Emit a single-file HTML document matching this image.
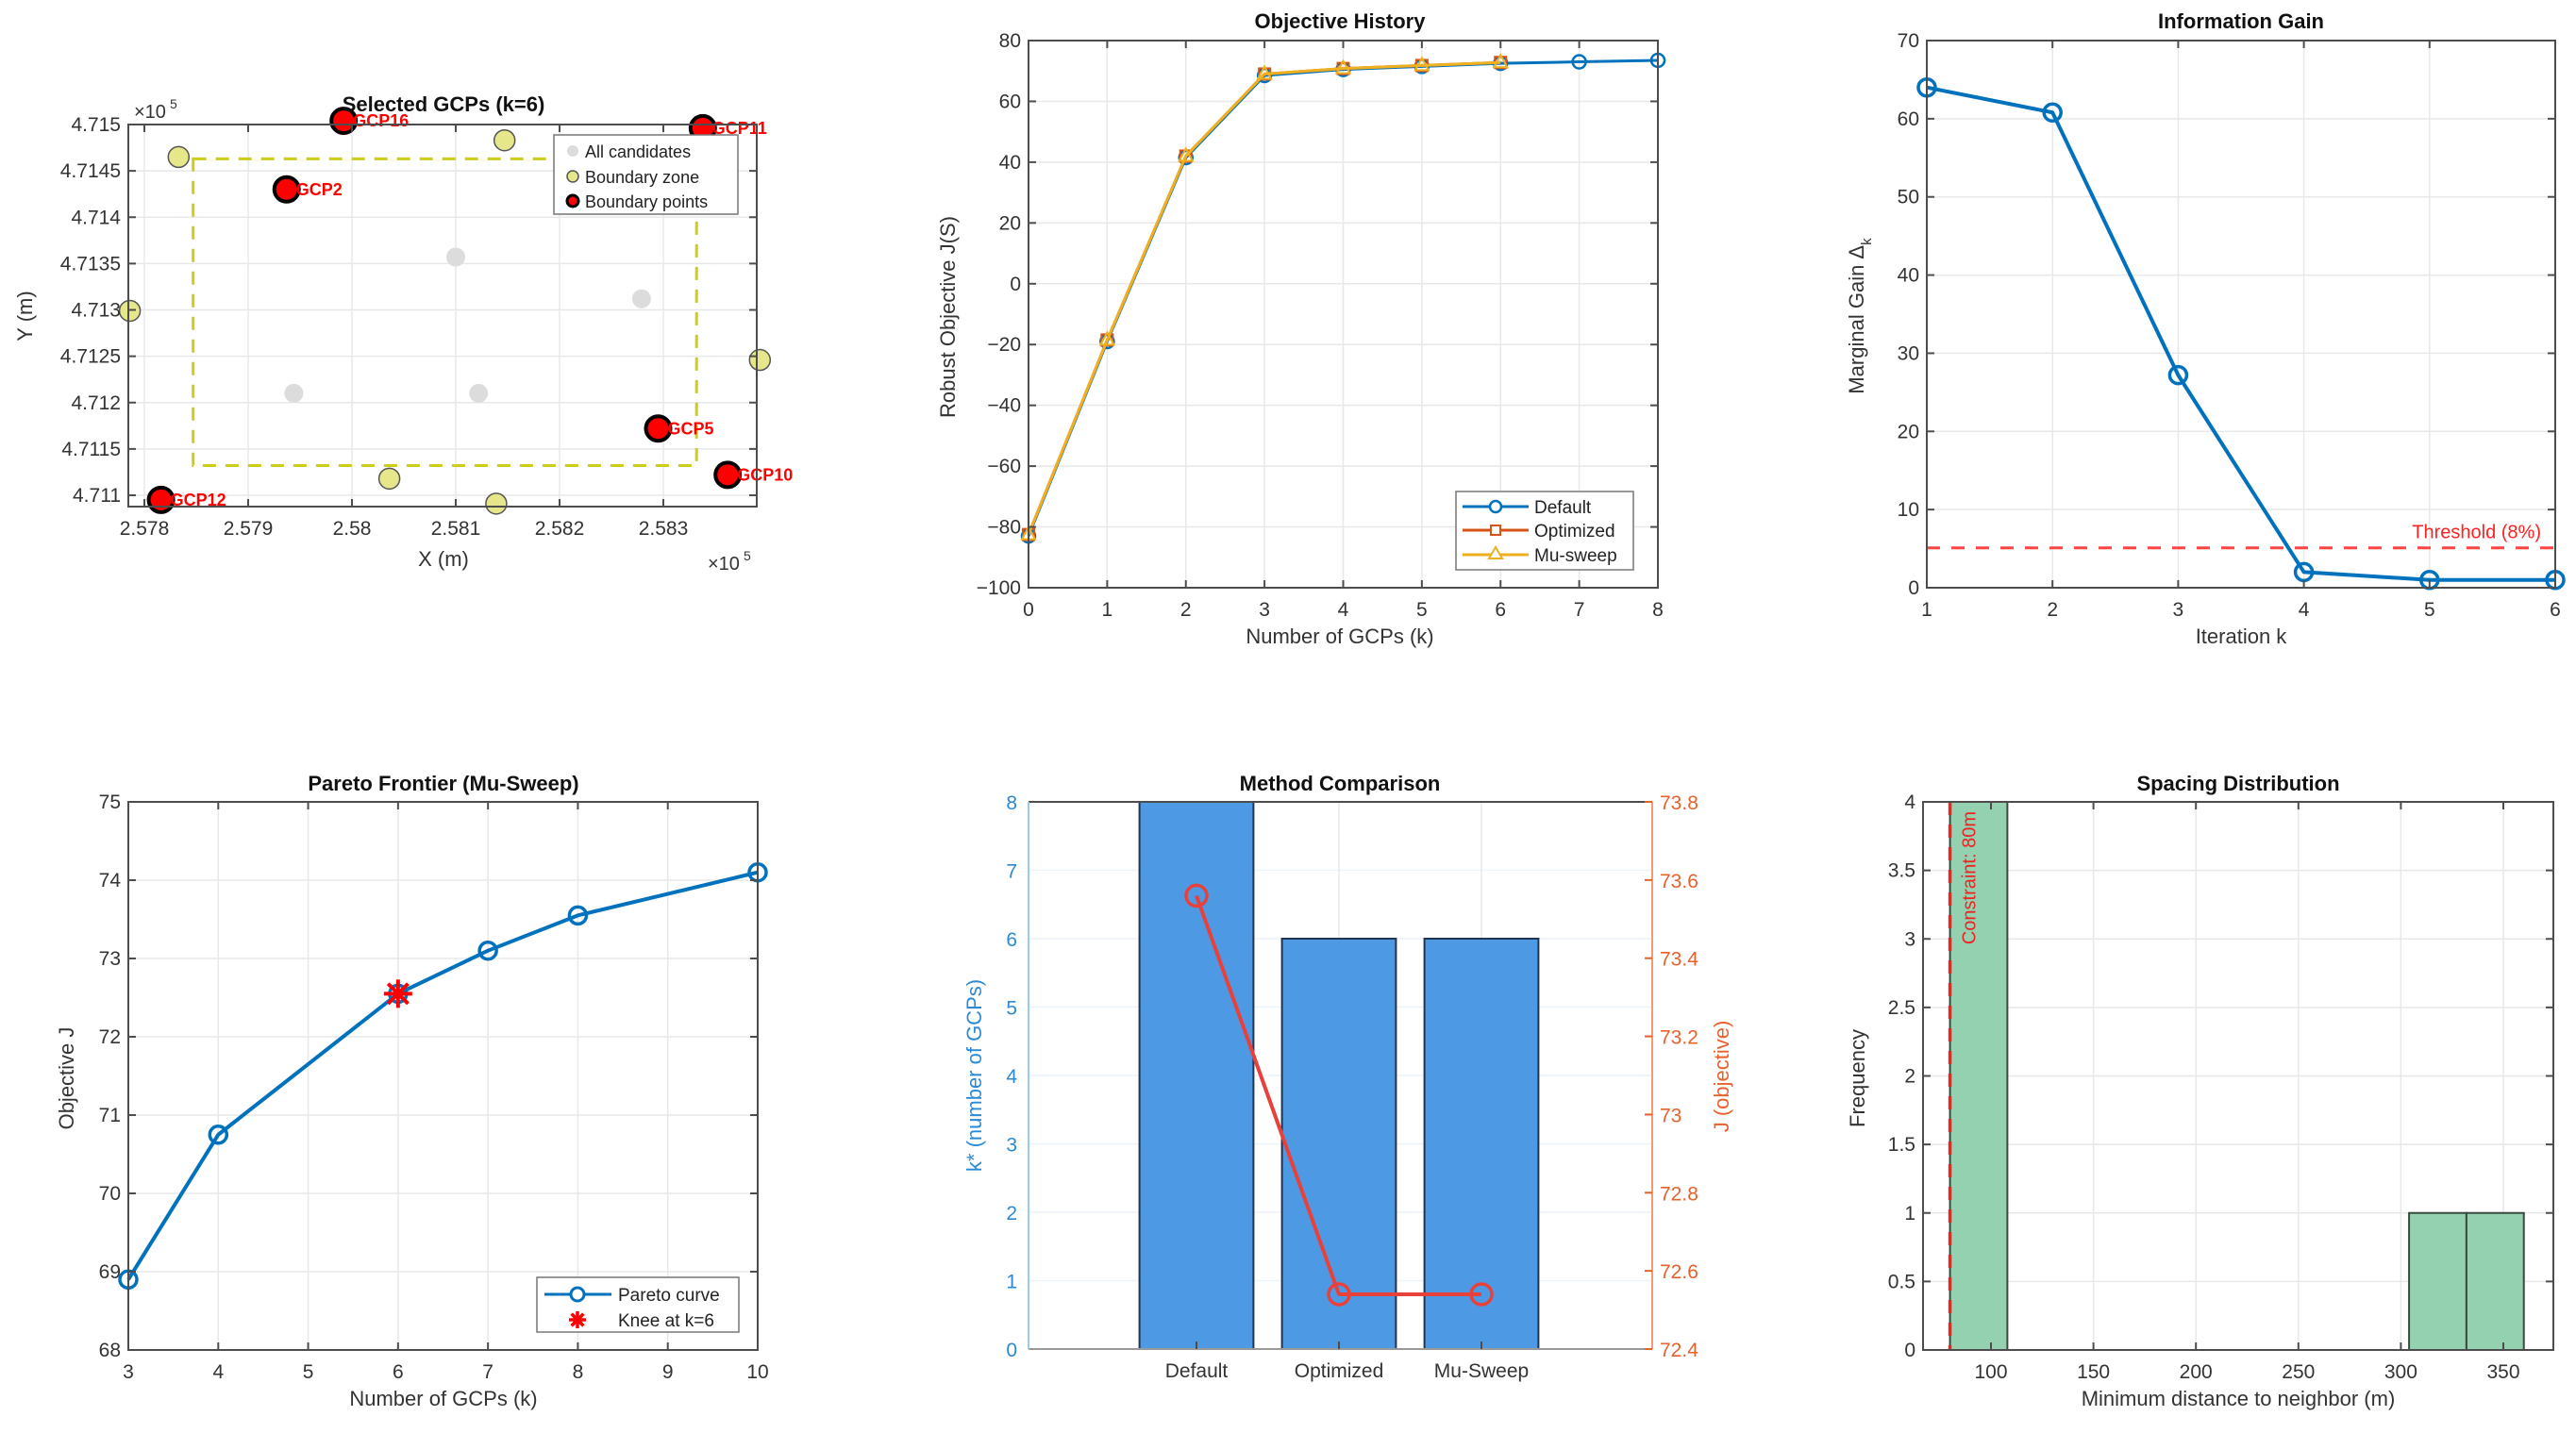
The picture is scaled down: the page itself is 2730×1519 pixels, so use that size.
<!DOCTYPE html>
<html><head><meta charset="utf-8"><style>
html,body{margin:0;padding:0;background:#fff}
svg{display:block;font-family:"Liberation Sans",Arial,sans-serif}
</style></head><body>
<svg id="fig" width="2730" height="1519" viewBox="0 0 2730 1519" xmlns="http://www.w3.org/2000/svg"></svg>
<script>
// ---------- data ----------
const candX=[2.58100,2.58279,2.57944,2.58122];
const candY=[4.71357,4.71312,4.71210,4.71210];
const zoneX=[2.57833,2.58147,2.57786,2.58393,2.58036,2.58139];
const zoneY=[4.71465,4.71483,4.71299,4.71246,4.71118,4.71091];
const gcpNames=["GCP16","GCP11","GCP2","GCP5","GCP10","GCP12"];
const gcpX=[2.57992,2.58338,2.57937,2.58295,2.58362,2.57816];
const gcpY=[4.71504,4.71496,4.71430,4.71172,4.71122,4.71095];
const rectX=[2.57847,2.58332];
const rectY=[4.71132,4.71463];
const p1XTicks=[2.578,2.579,2.58,2.581,2.582,2.583];
const p1YTicks=[4.711,4.7115,4.712,4.7125,4.713,4.7135,4.714,4.7145,4.715];

const histK=[0,1,2,3,4,5,6,7,8];
const histDefault=[-83,-19,41.5,68.5,70.5,71.5,72.5,73,73.5];
const histOptK=[0,1,2,3,4,5,6];
const histOptimized=[-82.5,-18.5,42,69,70.8,71.8,72.8];
const histMu=[-82.5,-18.5,42,69,70.8,71.8,72.8];
const p2XTicks=[0,1,2,3,4,5,6,7,8];
const p2YTicks=[-100,-80,-60,-40,-20,0,20,40,60,80];

const gainK=[1,2,3,4,5,6];
const gainVals=[64,60.8,27.2,2,1,1];
const threshold=[5.1];
const p3XTicks=[1,2,3,4,5,6];
const p3YTicks=[0,10,20,30,40,50,60,70];

const paretoK=[3,4,6,7,8,10];
const paretoJ=[68.9,70.75,72.55,73.1,73.55,74.1];
const kneeK=[6];
const kneeJ=[72.55];
const p4XTicks=[3,4,5,6,7,8,9,10];
const p4YTicks=[68,69,70,71,72,73,74,75];

const methods=["Default","Optimized","Mu-Sweep"];
const methodK=[8,6,6];
const methodJ=[73.56,72.54,72.54];
const p5LTicks=[0,1,2,3,4,5,6,7,8];
const p5RTicks=[72.4,72.6,72.8,73,73.2,73.4,73.6,73.8];
const p5RLabels=["72.4","72.6","72.8","73","73.2","73.4","73.6","73.8"];

const binEdges=[80,108,304,332,360];
const binCounts=[4,0,1,1];
const constraint=[80];
const p6XTicks=[100,150,200,250,300,350];
const p6YTicks=[0,0.5,1,1.5,2,2.5,3,3.5,4];

// ---------- helpers ----------
const NS="http://www.w3.org/2000/svg";
const svg=document.getElementById('fig');
function el(tag,attrs,parent,text){const e=document.createElementNS(NS,tag);for(const k in attrs)e.setAttribute(k,attrs[k]);if(text!==undefined)e.textContent=text;(parent||svg).appendChild(e);return e;}
function lin(d0,d1,r0,r1){return v=>r0+(v-d0)*(r1-r0)/(d1-d0);}
const AX="#4d4d4d",GRID="#e8e8e8",TXT="#333";
function frame(g,L,T,R,B,sx,sy,xt,yt,xlab,ylab,opts){
  xt.forEach(v=>{el('line',{x1:sx(v),x2:sx(v),y1:T,y2:B,stroke:GRID,'stroke-width':1.5},g);});
  yt.forEach(v=>{el('line',{x1:L,x2:R,y1:sy(v),y2:sy(v),stroke:GRID,'stroke-width':1.5},g);});
}
function axesBox(g,L,T,R,B,sx,sy,xt,yt,opts){
  opts=opts||{};
  el('rect',{x:L,y:T,width:R-L,height:B-T,fill:'none',stroke:AX,'stroke-width':2},g);
  xt.forEach((v,i)=>{const x=sx(v);el('line',{x1:x,x2:x,y1:B,y2:B-8,stroke:AX,'stroke-width':2},g);el('line',{x1:x,x2:x,y1:T,y2:T+8,stroke:AX,'stroke-width':2},g);
    const t=el('text',{x:x,y:B+30,'text-anchor':'middle','font-size':21,fill:TXT},g,opts.xl?opts.xl[i]:String(v));
    });
  if(!opts.noY) yt.forEach((v,i)=>{const y=sy(v);el('line',{x1:L,x2:L+8,y1:y,y2:y,stroke:AX,'stroke-width':2},g);el('line',{x1:R,x2:R-8,y1:y,y2:y,stroke:AX,'stroke-width':2},g);
    const t=el('text',{x:L-8,y:y+7,'text-anchor':'end','font-size':21,fill:TXT},g,opts.yl?opts.yl[i]:String(v));
    });
}
function title(g,x,y,s){const t=el('text',{x:x,y:y,'text-anchor':'middle','font-size':22,'font-weight':'bold',fill:'#111'},g,s);}
function xlabel(g,x,y,s){const t=el('text',{x:x,y:y,'text-anchor':'middle','font-size':22,fill:TXT},g,s);return t;}
function ylabel(g,x,y,s,col,rot){const t=el('text',{x:x,y:y,'text-anchor':'middle','font-size':22,fill:col||TXT,transform:`rotate(${rot||-90} ${x} ${y})`},g,s);return t;}
function circle(g,x,y,r,fill,stroke,sw){return el('circle',{cx:x,cy:y,r:r,fill:fill,stroke:stroke,'stroke-width':sw},g);}
function poly(g,xs,ys,sx,sy,col,w,dash){const pts=xs.map((x,i)=>sx(x)+','+sy(ys[i])).join(' ');const a={points:pts,fill:'none',stroke:col,'stroke-width':w,'stroke-linejoin':'round'};if(dash)a['stroke-dasharray']=dash;return el('polyline',a,g);}

// ---------- Panel 1 ----------
(function(){
const g=el('g',{});  
const L=136,T=132,R=802,B=537;
const sx=lin(2.578,2.583,153,703), sy=lin(4.711,4.715,525,132);
frame(g,L,T,R,B,sx,sy,p1XTicks,p1YTicks);
const rx=sx(rectX[0]),rx2=sx(rectX[1]),ry=sy(rectY[1]),ry2=sy(rectY[0]);
const rc=el('rect',{x:rx,y:ry,width:rx2-rx,height:ry2-ry,fill:'none',stroke:'#cccc1a','stroke-width':3,'stroke-dasharray':'14 10'},g);

candX.forEach((x,i)=>{const c=circle(g,sx(x),sy(candY[i]),10,'#dcdcdc','none',0);});
zoneX.forEach((x,i)=>{const c=circle(g,sx(x),sy(zoneY[i]),11,'#e6e68a','#555',1.5);});
gcpX.forEach((x,i)=>{const c=circle(g,sx(x),sy(gcpY[i]),13,'#ff0000','#000',4);
  const t=el('text',{x:sx(x)+10,y:sy(gcpY[i])+6,'font-size':18,'font-weight':'bold',fill:'#ff0000'},g,gcpNames[i]);});
axesBox(g,L,T,R,B,sx,sy,p1XTicks,p1YTicks,{xl:["2.578","2.579","2.58","2.581","2.582","2.583"]});
title(g,470,118,"Selected GCPs (k=6)");
xlabel(g,470,600,"X (m)");
ylabel(g,34,335,"Y (m)");
el('text',{x:142,y:125,'font-size':20,fill:TXT},g,"×10");el('text',{x:180,y:115,'font-size':14,fill:TXT},g,"5");
el('text',{x:750,y:604,'font-size':20,fill:TXT},g,"×10");el('text',{x:788,y:594,'font-size':14,fill:TXT},g,"5");
const lg=el('g',{},g);
el('rect',{x:587,y:143,width:195,height:84,fill:'#fff',stroke:'#777','stroke-width':1.5},lg);
circle(lg,607,160,6,'#dcdcdc','none',0);el('text',{x:620,y:167,'font-size':18,fill:'#222'},lg,"All candidates");
circle(lg,607,187,6,'#e6e68a','#555',1.5);el('text',{x:620,y:194,'font-size':18,fill:'#222'},lg,"Boundary zone");
circle(lg,607,213,6,'#ff0000','#000',3);el('text',{x:620,y:220,'font-size':18,fill:'#222'},lg,"Boundary points");
})();

// ---------- Panel 2 ----------
(function(){
const g=el('g',{});  
const L=1090,T=43,R=1757,B=623;
const sx=lin(0,8,L,R), sy=lin(-100,80,B,T);
frame(g,L,T,R,B,sx,sy,p2XTicks,p2YTicks);
const BLUE="#0072BD",ORG="#D95319",YEL="#EDB120";
const l1=poly(g,histK,histDefault,sx,sy,BLUE,3);
histK.forEach((k,i)=>{const c=circle(g,sx(k),sy(histDefault[i]),7,'none',BLUE,2.5);});
const l2=poly(g,histOptK,histOptimized,sx,sy,ORG,3);
histOptK.forEach((k,i)=>{const r=el('rect',{x:sx(k)-6,y:sy(histOptimized[i])-6,width:12,height:12,fill:'none',stroke:ORG,'stroke-width':2},g);});
const l3=poly(g,histOptK,histMu,sx,sy,YEL,3);
histOptK.forEach((k,i)=>{const x=sx(k),y=sy(histMu[i]);const p=el('polygon',{points:`${x},${y-8} ${x-7},${y+5} ${x+7},${y+5}`,fill:'none',stroke:YEL,'stroke-width':2},g);});
axesBox(g,L,T,R,B,sx,sy,p2XTicks,p2YTicks,{yl:p2YTicks.map(v=>v<0?'\u2212'+(-v):String(v))});
title(g,1420,30,"Objective History");
xlabel(g,1420,682,"Number of GCPs (k)");
ylabel(g,1012,336,"Robust Objective J(S)");
const lg=el('g',{},g);
el('rect',{x:1543,y:521,width:188,height:83,fill:'#fff',stroke:'#777','stroke-width':1.5},lg);
[[BLUE,'Default',537],[ORG,'Optimized',562],[YEL,'Mu-sweep',588]].forEach((r,i)=>{
 el('line',{x1:1550,x2:1620,y1:r[2],y2:r[2],stroke:r[0],'stroke-width':3},lg);
 if(i==0)circle(lg,1585,r[2],6,'#fff',r[0],2.5);
 if(i==1)el('rect',{x:1580,y:r[2]-5,width:10,height:10,fill:'#fff',stroke:r[0],'stroke-width':2},lg);
 if(i==2)el('polygon',{points:`1585,${r[2]-8} 1578,${r[2]+4} 1592,${r[2]+4}`,fill:'#fff',stroke:r[0],'stroke-width':2},lg);
 el('text',{x:1626,y:r[2]+7,'font-size':19,fill:'#222'},lg,r[1]);});
})();

// ---------- Panel 3 ----------
(function(){
const g=el('g',{});  
const L=2042,T=43,R=2708,B=623;
const sx=lin(1,6,L,R), sy=lin(0,70,B,T);
frame(g,L,T,R,B,sx,sy,p3XTicks,p3YTicks);
const th=el('line',{x1:L,x2:R,y1:sy(threshold[0]),y2:sy(threshold[0]),stroke:'#ff4444','stroke-width':3,'stroke-dasharray':'14 12'},g);

const tt=el('text',{x:2693,y:sy(threshold[0])-10,'text-anchor':'end','font-size':20,fill:'#ff2020'},g,"Threshold (8%)");

const l=poly(g,gainK,gainVals,sx,sy,"#0072BD",4);
gainK.forEach((k,i)=>{const c=circle(g,sx(k),sy(gainVals[i]),9,'none','#0072BD',3.5);});
axesBox(g,L,T,R,B,sx,sy,p3XTicks,p3YTicks);
title(g,2375,30,"Information Gain");
xlabel(g,2375,682,"Iteration k");
const yl=ylabel(g,1975,335,"Marginal Gain \u0394");
el('tspan',{'font-size':15,dy:8},yl,"k");
})();

// ---------- Panel 4 ----------
(function(){
const g=el('g',{});  
const L=136,T=850,R=803,B=1431;
const sx=lin(3,10,L,R), sy=lin(68,75,B,T);
frame(g,L,T,R,B,sx,sy,p4XTicks,p4YTicks);
const l=poly(g,paretoK,paretoJ,sx,sy,"#0072BD",4);
paretoK.forEach((k,i)=>{const c=circle(g,sx(k),sy(paretoJ[i]),9,'none','#0072BD',3.5);});
kneeK.forEach((k,i)=>{const x=sx(k),y=sy(kneeJ[i]);const s=el('g',{},g);
 for(let a=0;a<4;a++){const ang=a*Math.PI/4;el('line',{x1:x-15*Math.cos(ang),y1:y-15*Math.sin(ang),x2:x+15*Math.cos(ang),y2:y+15*Math.sin(ang),stroke:'#ff0000','stroke-width':4},s);}});
axesBox(g,L,T,R,B,sx,sy,p4XTicks,p4YTicks);
title(g,470,838,"Pareto Frontier (Mu-Sweep)");
xlabel(g,470,1490,"Number of GCPs (k)");
ylabel(g,78,1143,"Objective J");
const lg=el('g',{},g);
el('rect',{x:569,y:1354,width:214,height:58,fill:'#fff',stroke:'#777','stroke-width':1.5},lg);
el('line',{x1:577,x2:648,y1:1372,y2:1372,stroke:'#0072BD','stroke-width':3},lg);circle(lg,612,1372,7,'#fff','#0072BD',3);
el('text',{x:655,y:1379,'font-size':19,fill:'#222'},lg,"Pareto curve");
for(let a=0;a<4;a++){const ang=a*Math.PI/4;el('line',{x1:612-9*Math.cos(ang),y1:1399-9*Math.sin(ang),x2:612+9*Math.cos(ang),y2:1399+9*Math.sin(ang),stroke:'#ff0000','stroke-width':3.5},lg);}
el('text',{x:655,y:1406,'font-size':19,fill:'#222'},lg,"Knee at k=6");
})();

// ---------- Panel 5 ----------
(function(){
const g=el('g',{});  
const L=1090,T=850,R=1751,B=1430;
const sx=lin(1,3,1268,1570), sy=lin(0,8,B,T), sr=lin(72.4,73.8,B,T);
const LB="#2b8ad6",RO="#e8612c";
p5LTicks.forEach(v=>el('line',{x1:L,x2:R,y1:sy(v),y2:sy(v),stroke:'#eaf2fa','stroke-width':1.5},g));
[1,2,3].forEach(v=>el('line',{x1:sx(v),x2:sx(v),y1:T,y2:B,stroke:GRID,'stroke-width':1.5},g));
methods.forEach((m,i)=>{const x=sx(i+1);const w=sx(1.4)-sx(0.6);const r=el('rect',{x:x-w/2,y:sy(methodK[i]),width:w,height:B-sy(methodK[i]),fill:'#4d99e3',stroke:'#1f3550','stroke-width':2},g);});
const l=poly(g,[1,2,3],methodJ,sx,sr,"#e8413c",4);
methodJ.forEach((v,i)=>{const c=circle(g,sx(i+1),sr(v),11,'none','#e8413c',3.5);});
el('line',{x1:L,x2:R,y1:T,y2:T,stroke:AX,'stroke-width':2},g);
el('line',{x1:L,x2:R,y1:B,y2:B,stroke:'#999','stroke-width':2},g);
el('line',{x1:L,x2:L,y1:T,y2:B,stroke:'#9cc9ee','stroke-width':2},g);
el('line',{x1:R,x2:R,y1:T,y2:B,stroke:'#f09a78','stroke-width':2},g);
p5LTicks.forEach(v=>{const t=el('text',{x:L-12,y:sy(v)+8,'text-anchor':'end','font-size':21,fill:LB},g,String(v));});
p5RTicks.forEach((v,i)=>{el('line',{x1:R,x2:R-8,y1:sr(v),y2:sr(v),stroke:RO,'stroke-width':2},g);const t=el('text',{x:R+8,y:sr(v)+8,'font-size':21,fill:RO},g,p5RLabels[i]);});
methods.forEach((m,i)=>{el('line',{x1:sx(i+1),x2:sx(i+1),y1:B,y2:B-8,stroke:AX,'stroke-width':2},g);const t=el('text',{x:sx(i+1),y:B+30,'text-anchor':'middle','font-size':21,fill:TXT},g,m);});
title(g,1420,838,"Method Comparison");
ylabel(g,1040,1140,"k* (number of GCPs)",LB);
ylabel(g,1832,1141,"J (objective)",RO,-90);
})();

// ---------- Panel 6 ----------
(function(){
const g=el('g',{});  
const L=2038,T=850,R=2706,B=1431;
const sx=lin(100,350,2110,2653), sy=lin(0,4,B,T);
frame(g,L,T,R,B,sx,sy,p6XTicks,p6YTicks);
binCounts.forEach((c,i)=>{if(!c)return;const r=el('rect',{x:sx(binEdges[i]),y:sy(c),width:sx(binEdges[i+1])-sx(binEdges[i]),height:B-sy(c),fill:'#93d1b0',stroke:'#3a4a40','stroke-width':2},g);});
const cl=el('line',{x1:sx(constraint[0]),x2:sx(constraint[0]),y1:T,y2:B,stroke:'#ee2222','stroke-width':3.5,'stroke-dasharray':'14 10'},g);

const ct=el('text',{x:0,y:0,'font-size':20,fill:'#ee2222','text-anchor':'end',transform:`translate(${sx(constraint[0])+27},${T+10}) rotate(-90)`},g,"Constraint: 80m");

axesBox(g,L,T,R,B,sx,sy,p6XTicks,p6YTicks);
title(g,2372,838,"Spacing Distribution");
xlabel(g,2372,1490,"Minimum distance to neighbor (m)");
ylabel(g,1976,1143,"Frequency");
})();
</script>
</body></html>
